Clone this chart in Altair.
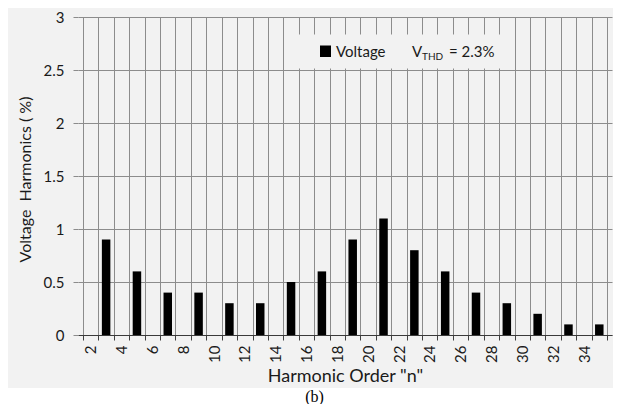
import altair as alt
import pandas as pd

# ---- data ----
harmonic_orders = [3, 5, 7, 9, 11, 13, 15, 17, 19, 21, 23, 25, 27, 29, 31, 33, 35]
voltage_pct = [0.9, 0.6, 0.4, 0.4, 0.3, 0.3, 0.5, 0.6, 0.9, 1.1, 0.8, 0.6, 0.4, 0.3, 0.2, 0.1, 0.1]
category_bounds = [1.5, 2.5, 3.5, 4.5, 5.5, 6.5, 7.5, 8.5, 9.5, 10.5, 11.5, 12.5, 13.5,
                   14.5, 15.5, 16.5, 17.5, 18.5, 19.5, 20.5, 21.5, 22.5, 23.5, 24.5,
                   25.5, 26.5, 27.5, 28.5, 29.5, 30.5, 31.5, 32.5, 33.5, 34.5, 35.5]
x_tick_labels = [2, 4, 6, 8, 10, 12, 14, 16, 18, 20, 22, 24, 26, 28, 30, 32, 34]
y_ticks = [0, 0.5, 1, 1.5, 2, 2.5, 3]

df = pd.DataFrame({"order": harmonic_orders, "pct": voltage_pct})
one = pd.DataFrame({"a": [0]})

W, H = 534, 318
FONT = "Lato"
GRID = "#8c8c8c"
TXT = "#1a1a1a"
n_cats = len(category_bounds) - 1

label_list = "[" + ",".join(str(v) for v in x_tick_labels) + "]"
x_axis = alt.Axis(
    values=category_bounds,
    grid=True, gridColor=GRID, gridWidth=1,
    ticks=True, tickSize=5, tickColor="#404040",
    domain=True, domainColor="#3a3a3a",
    labelExpr=f"indexof({label_list}, datum.value + 0.5) >= 0 ? format(datum.value + 0.5, 'd') : ''",
    labelOffset=W / n_cats / 2,
    labelAngle=270, labelOverlap=False, labelFlush=False, labelBound=False,
    labelFont=FONT, labelFontSize=15, labelColor=TXT, labelPadding=5,
    title='Harmonic Order "n"', titleFont=FONT, titleFontSize=18,
    titleFontWeight="normal", titleColor=TXT,
    titleY=41, titleBaseline="middle",
)
y_axis = alt.Axis(
    values=y_ticks, format="~g",
    grid=True, gridColor=GRID, gridWidth=1,
    ticks=True, tickSize=5, tickColor=GRID,
    domain=False,
    labelFont=FONT, labelFontSize=15, labelColor=TXT, labelPadding=9,
    title="Voltage\u00a0 Harmonics ( %)", titleFont=FONT, titleFontSize=16,
    titleFontWeight="normal", titleColor=TXT,
    titleX=-53, titleY=162, titleBaseline="middle", titleAlign="center",
)

bars = alt.Chart(df).mark_bar(size=8.5, color="black").encode(
    x=alt.X("order:Q", scale=alt.Scale(domain=[1.5, 35.5], nice=False, zero=False), axis=x_axis),
    y=alt.Y("pct:Q", scale=alt.Scale(domain=[0, 3], nice=False), axis=y_axis),
)

legend_bg = alt.Chart(one).mark_rect(color="#f2f2f2").encode(
    x=alt.value(214), x2=alt.value(437), y=alt.value(17.5), y2=alt.value(51.5))
legend_sq = alt.Chart(one).mark_rect(color="black").encode(
    x=alt.value(242), x2=alt.value(253), y=alt.value(28.5), y2=alt.value(40))
legend_txt = alt.Chart(one).mark_text(
    text="Voltage", align="left", baseline="alphabetic", font=FONT, fontSize=15, color=TXT
).encode(x=alt.value(258), y=alt.value(40))
v_txt = alt.Chart(one).mark_text(
    text="V", align="left", baseline="alphabetic", font=FONT, fontSize=15, color=TXT
).encode(x=alt.value(334), y=alt.value(40))
sub_txt = alt.Chart(one).mark_text(
    text="THD", align="left", baseline="alphabetic", font=FONT, fontSize=10, color=TXT
).encode(x=alt.value(344), y=alt.value(43))
eq_txt = alt.Chart(one).mark_text(
    text="= 2.3%", align="left", baseline="alphabetic", font=FONT, fontSize=15, color=TXT
).encode(x=alt.value(371), y=alt.value(40))

bottom_white = alt.Chart(one).mark_rect(color="white").encode(
    x=alt.value(-80), x2=alt.value(560), y=alt.value(371), y2=alt.value(420))
caption = alt.Chart(one).mark_text(
    text="(b)", align="center", baseline="middle", font="Liberation Serif", fontSize=16, color="black"
).encode(x=alt.value(236.5), y=alt.value(380))

chart = alt.layer(
    bars, legend_bg, legend_sq, legend_txt, v_txt, sub_txt, eq_txt, bottom_white, caption
).properties(
    width=W, height=H,
    autosize=alt.AutoSizeParams(type="none"),
    padding={"left": 70, "top": 9, "right": 1, "bottom": 69},
).configure(background="#f2f2f2").configure_view(stroke=None)

chart.save("out.html", embed_options={"renderer": "svg", "actions": False})
